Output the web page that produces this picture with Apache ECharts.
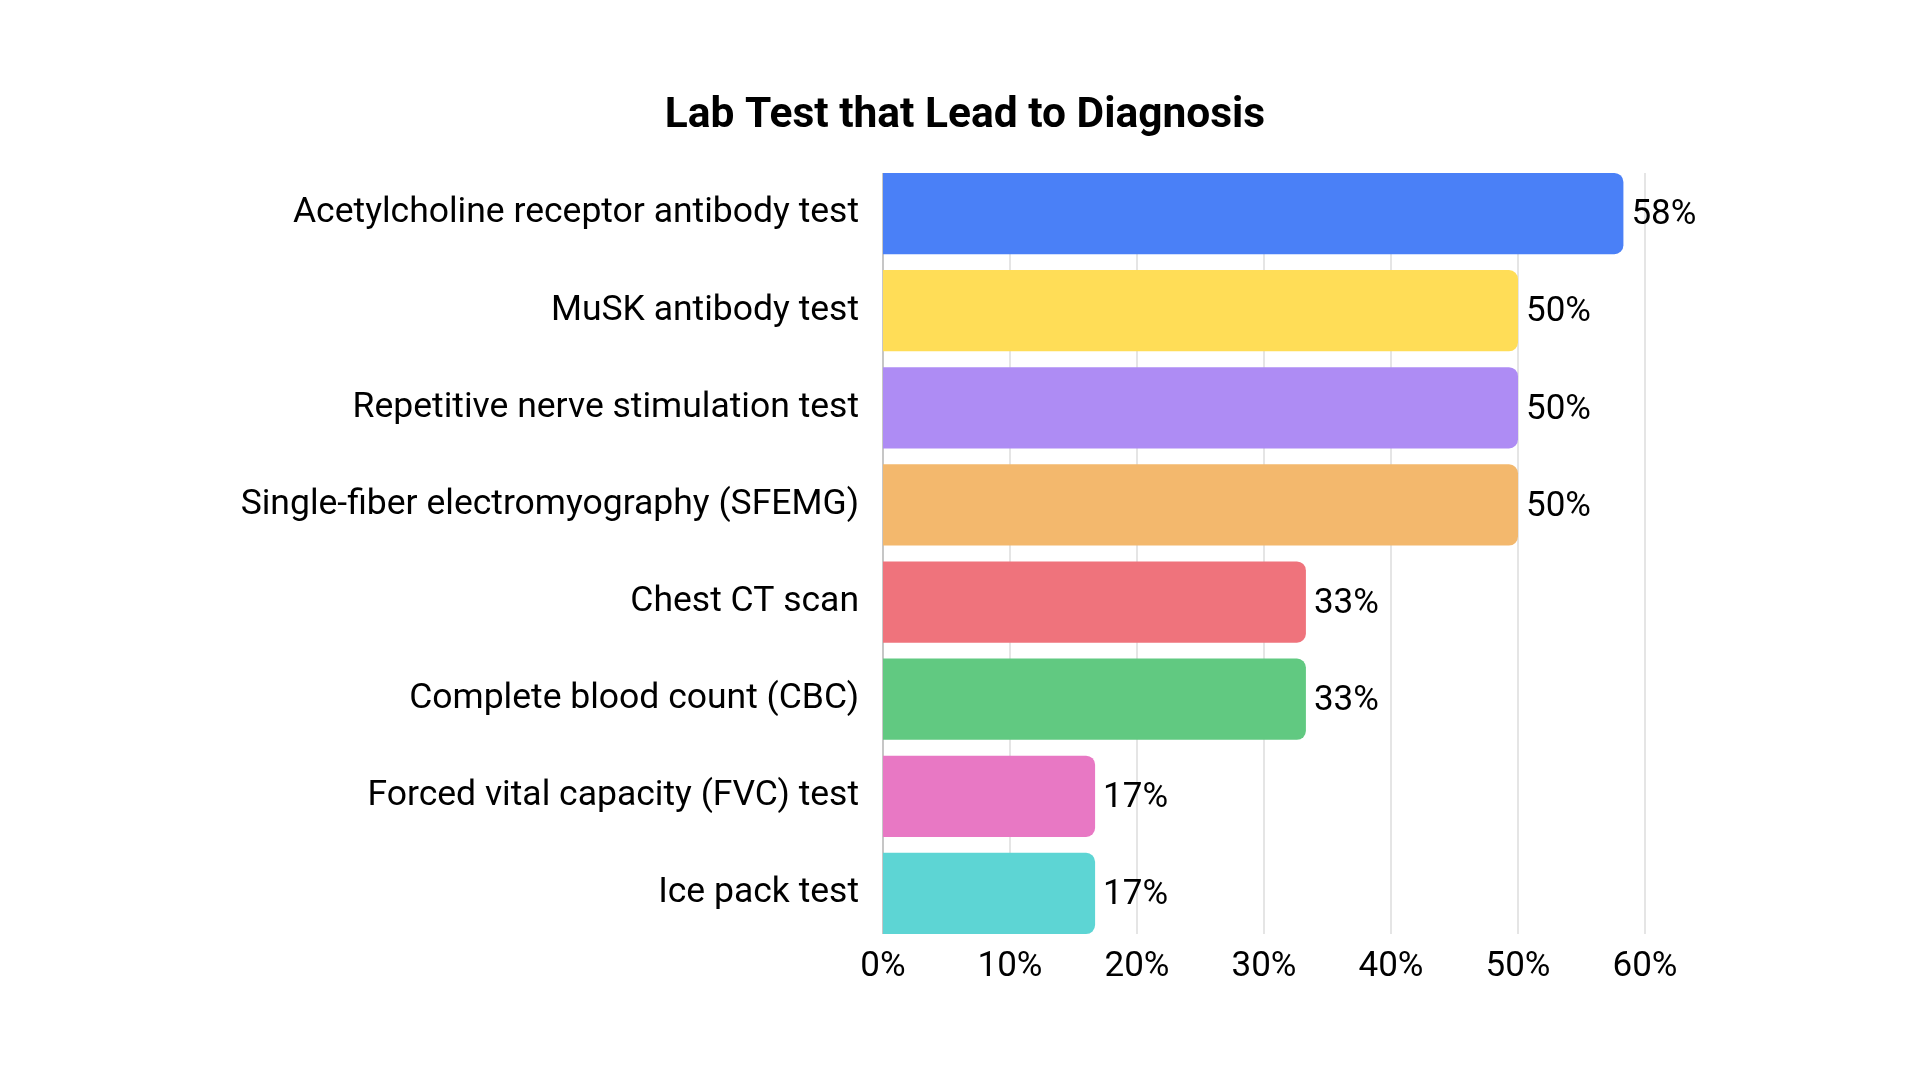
<!DOCTYPE html>
<html>
<head>
<meta charset="utf-8">
<title>Lab Test that Lead to Diagnosis</title>
<script src="https://cdn.jsdelivr.net/npm/echarts@6/dist/echarts.min.js"></script>
<style>
    html, body { margin: 0; padding: 0; background: #fff; }
    #chart { width: 1920px; height: 1080px; }
</style>
</head>
<body>
<div id="chart"></div>
<script>
// data, top to bottom (labels are rounded)
var tests = [
    'Acetylcholine receptor antibody test',
    'MuSK antibody test',
    'Repetitive nerve stimulation test',
    'Single-fiber electromyography (SFEMG)',
    'Chest CT scan',
    'Complete blood count (CBC)',
    'Forced vital capacity (FVC) test',
    'Ice pack test'
];
var percents = [58.3, 50, 50, 50, 33.3, 33.3, 16.7, 16.7];
var barColors = ['#4a80f7', '#ffdd57', '#ae8cf4', '#f3b86d', '#ef737c', '#61c981', '#e878c4', '#5dd5d4'];
var tickValues = [0, 10, 20, 30, 40, 50, 60];

var font = 'Roboto, "Noto Sans", sans-serif';

init();

function init(){
    var myChart = echarts.init(document.getElementById('chart'));

    var items = [];
    for (var i = 0; i < percents.length; i++) {
        items.push({
            value: percents[i],
            itemStyle: { color: barColors[i] }
        });
    }

    // first split line (0%) is a bit darker than the rest
    var splitColors = [];
    for (var j = 0; j < tickValues.length; j++) {
        splitColors.push(j == 0 ? '#b3b3b3' : '#dcdcdc');
    }

    var option = {
        backgroundColor: '#ffffff',
        animation: false,
        title: {
            text: 'Lab Test that Lead to Diagnosis',
            left: 960,
            textAlign: 'center',
            top: 90,
            textStyle: {
                fontFamily: font,
                fontWeight: 'bold',
                fontSize: 42.5,
                color: '#000'
            }
        },
        grid: [
            // bars
            { left: 883, right: 275, top: 165, bottom: 138 },
            // gridlines only span the bars themselves
            { left: 883, right: 275, top: 173, bottom: 146 }
        ],
        xAxis: [
            {
                gridIndex: 0,
                type: 'value',
                min: tickValues[0],
                max: tickValues[tickValues.length - 1],
                interval: 10,
                axisLine: { show: false },
                axisTick: { show: false },
                splitLine: { show: false },
                axisLabel: {
                    formatter: '{value}%',
                    margin: 8,
                    fontFamily: font,
                    fontSize: 35,
                    color: '#000'
                }
            },
            {
                gridIndex: 1,
                type: 'value',
                min: tickValues[0],
                max: tickValues[tickValues.length - 1],
                interval: 10,
                axisLine: { show: false },
                axisTick: { show: false },
                axisLabel: { show: false },
                splitLine: {
                    show: true,
                    lineStyle: {
                        color: splitColors,
                        width: 1.5
                    }
                }
            }
        ],
        yAxis: [
            {
                gridIndex: 0,
                type: 'category',
                inverse: true,
                data: tests,
                axisLine: { show: false },
                axisTick: { show: false },
                axisLabel: {
                    margin: 24,
                    fontFamily: font,
                    fontSize: 35.5,
                    color: '#000'
                }
            },
            {
                gridIndex: 1,
                type: 'category',
                inverse: true,
                data: tests,
                show: false
            }
        ],
        series: [
            {
                name: 'Diagnosis',
                type: 'bar',
                xAxisIndex: 0,
                yAxisIndex: 0,
                z: 3,
                barCategoryGap: '16.3%',
                data: items,
                itemStyle: {
                    borderRadius: [0, 9, 9, 0]
                },
                label: {
                    show: true,
                    position: 'right',
                    distance: 8,
                    offset: [0, 2],
                    formatter: function (p) {
                        return Math.round(p.value) + '%';
                    },
                    fontFamily: font,
                    fontSize: 35,
                    color: '#000'
                }
            }
        ]
    };

    myChart.setOption(option);
}
</script>
</body>
</html>
